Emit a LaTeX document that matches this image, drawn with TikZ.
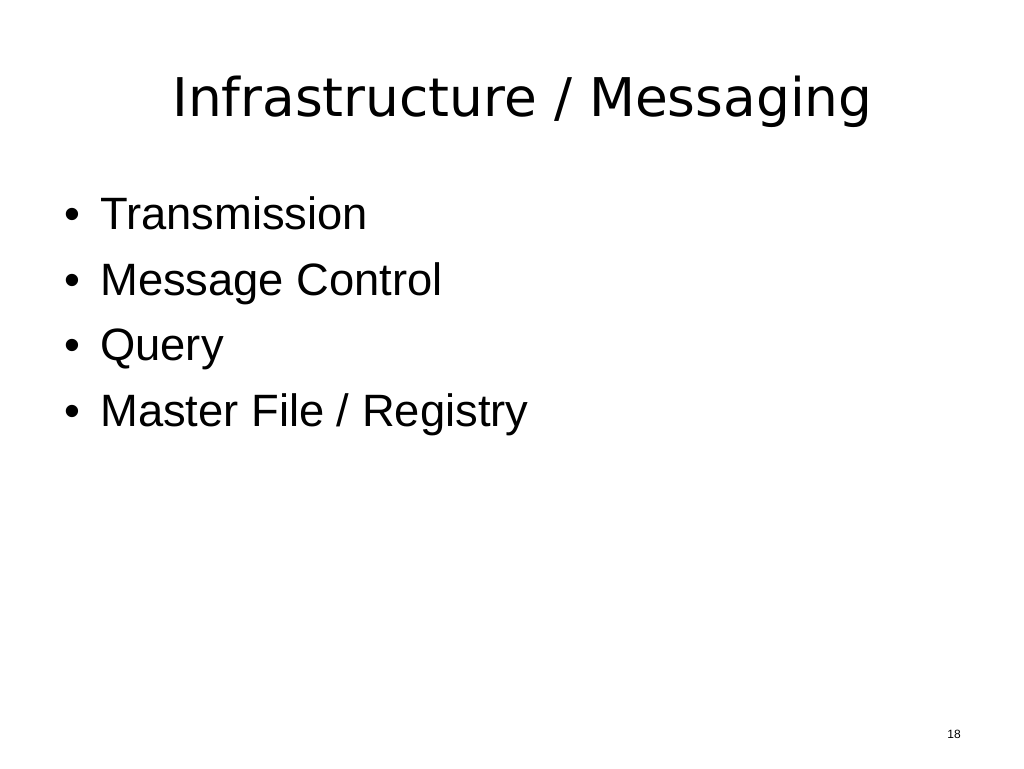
\documentclass[tikz,border=0pt]{standalone}
\usepackage{fontspec}
\setmainfont{Liberation Sans}
\newfontfamily\titlefont{DejaVu Sans}
\begin{document}
\begin{tikzpicture}[x=0.75pt,y=-0.75pt,
  item/.style={anchor=base west,inner sep=0pt,font=\fontsize{34}{40}\selectfont},
  dot/.style={anchor=base,inner sep=0pt,font=\fontsize{34}{40}\selectfont}]
\useasboundingbox[fill=white] (0,0) rectangle (1024,768);
\node[anchor=base west,inner sep=0pt,font=\titlefont\fontsize{40}{48}\selectfont] (title) at (172,116) {Infrastructure / Messaging};
\node[dot] (ba) at (72,229) {•};
\node[item] (ia) at (100,229) {Transmission};
\node[dot] (bb) at (72,295) {•};
\node[item] (ib) at (100,295) {Message Control};
\node[dot] (bc) at (72,360) {•};
\node[item] (ic) at (100,360) {Query};
\node[dot] (bd) at (72,426) {•};
\node[item] (id) at (100,426) {Master File / Registry};
\node[anchor=base,inner sep=0pt,font=\fontsize{9}{11}\selectfont] (page) at (954,738) {18};
\end{tikzpicture}
\end{document}
